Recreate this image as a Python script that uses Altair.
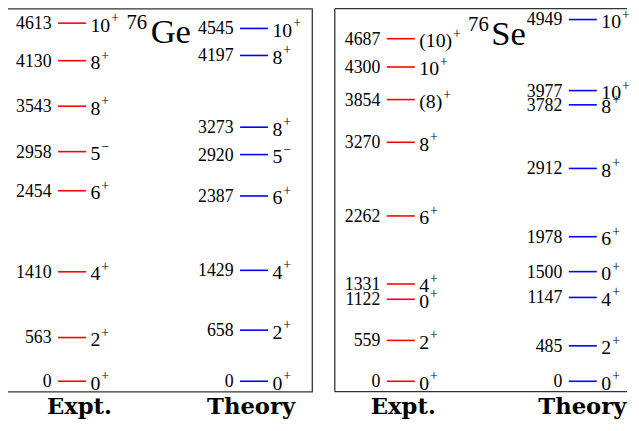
import altair as alt
import pandas as pd

# ---------------- data ----------------
ge_expt_E = [0, 563, 1410, 2454, 2958, 3543, 4130, 4613]
ge_expt_J = ["0", "2", "4", "6", "5", "8", "8", "10"]
ge_expt_P = ["+", "+", "+", "+", "−", "+", "+", "+"]
ge_th_E = [0, 658, 1429, 2387, 2920, 3273, 4197, 4545]
ge_th_J = ["0", "2", "4", "6", "5", "8", "8", "10"]
ge_th_P = ["+", "+", "+", "+", "−", "+", "+", "+"]

se_expt_E = [0, 559, 1122, 1331, 2262, 3270, 3854, 4300, 4687]
se_expt_J = ["0", "2", "0", "4", "6", "8", "(8)", "10", "(10)"]
se_expt_P = ["+", "+", "+", "+", "+", "+", "+", "+", "+"]
se_th_E = [0, 485, 1147, 1500, 1978, 2912, 3782, 3977, 4949]
se_th_J = ["0", "2", "4", "0", "6", "8", "8", "10", "10"]
se_th_P = ["+", "+", "+", "+", "+", "+", "+", "+", "+"]

columns = ["Expt.", "Theory"]
column_pos = [0, 1]
colors = ["#ff0000", "#0000ff"]

nuclei = ["Ge", "Se"]
mass_number = "76"

FONT = "Liberation Serif"
HALF = 0.077          # half length of a level line (x units)
PXU = 184.35          # pixels per x unit
X0 = -0.3626
PANEL_H = 388
BOX = "#333333"


def panel(expt, th, ydom, sym, width, full_box, title_pos, lab_off):
    rows = []
    for col, pos, (Es, Js, Ps) in [(columns[0], column_pos[0], expt),
                                   (columns[1], column_pos[1], th)]:
        for e, j, p in zip(Es, Js, Ps):
            rows.append({"series": col, "pos": pos, "E": e, "Jb": j, "Js": p})
    df = pd.DataFrame(rows)
    base = alt.Chart(df).transform_calculate(
        x1=f"datum.pos - {HALF}",
        x2=f"datum.pos + {HALF}",
        Elab="datum.E == 0 ? '0\u00a0' : toString(datum.E)",
        jw="length(datum.Jb) * 10 - ((indexof(datum.Jb, '(') >= 0) ? 3.4 : 0)"
           " - ((indexof(datum.Jb, ')') >= 0) ? 3.4 : 0)",
    ).transform_calculate(
        xs=f"datum.x2 + (5.5 + datum.jw) / {PXU}"
    )
    xs = alt.Scale(domain=[X0, X0 + width / PXU], nice=False, zero=False)
    ys = alt.Scale(domain=ydom, nice=False, zero=False)
    xaxis = alt.Axis(
        values=column_pos,
        labelExpr="datum.value == 0 ? 'Expt.' : 'Theory'",
        title=None, domain=False, ticks=False, grid=False,
        labelFont="DejaVu Serif", labelFontWeight="bold", labelFontSize=23,
        labelColor="black", labelPadding=4,
        labelOffset={"condition": {"test": "datum.value == 0", "value": lab_off[0]},
                     "value": lab_off[1]},
    )
    yenc = alt.Y("E:Q", scale=ys, axis=None)
    lines = base.mark_rule(strokeWidth=1.6).encode(
        x=alt.X("x1:Q", scale=xs, axis=xaxis),
        x2="x2:Q",
        y=yenc,
        color=alt.Color("series:N", scale=alt.Scale(domain=columns, range=colors), legend=None),
    )
    elab = base.mark_text(align="right", baseline="middle", dx=-6.5, dy=1, font=FONT,
                          fontSize=18, color="black").encode(
        x=alt.X("x1:Q", scale=xs, axis=xaxis), y=yenc, text="Elab:N")
    jlab = base.mark_text(align="left", baseline="middle", dx=4.5, dy=2.5, font=FONT,
                          fontSize=20, color="black").encode(
        x=alt.X("x2:Q", scale=xs, axis=xaxis), y=yenc, text="Jb:N")
    jsup = base.mark_text(align="left", baseline="middle", dx=0, dy=-5, font=FONT,
                          fontSize=14, color="black").encode(
        x=alt.X("xs:Q", scale=xs, axis=xaxis), y=yenc, text="Js:N")
    mx, my, sx, sy = title_pos
    iso = alt.Chart(pd.DataFrame({"mass": [mass_number], "sym": [sym]}))
    t_mass = iso.mark_text(align="right", baseline="alphabetic", font=FONT,
                           fontSize=21, color="black").encode(
        x=alt.value(mx), y=alt.value(my), text="mass:N")
    t_sym = iso.mark_text(align="left", baseline="alphabetic", font=FONT,
                          fontSize=35, color="black").encode(
        x=alt.value(sx), y=alt.value(sy), text="sym:N")
    layers = [lines, elab, jlab, jsup, t_mass, t_sym]
    props = {"width": width, "height": PANEL_H}
    if not full_box:
        edge = alt.Chart(pd.DataFrame({"k": [0]}))
        top = edge.mark_rule(color=BOX, strokeWidth=1.3).encode(
            x=alt.value(0), x2=alt.value(width), y=alt.value(0))
        bottom = edge.mark_rule(color=BOX, strokeWidth=1.3).encode(
            x=alt.value(0), x2=alt.value(width), y=alt.value(PANEL_H))
        leftedge = edge.mark_rule(color=BOX, strokeWidth=1.3).encode(
            x=alt.value(0), y=alt.value(0), y2=alt.value(PANEL_H))
        layers += [top, bottom, leftedge]
        props["view"] = alt.ViewBackground(stroke="transparent")
    return alt.layer(*layers).properties(**props)


left = panel((ge_expt_E, ge_expt_J, ge_expt_P), (ge_th_E, ge_th_J, ge_th_P),
             [-135, 4800], nuclei[0], 310, True,
             (143, 21, 146.5, 34.5), (7, -3.5))
right = panel((se_expt_E, se_expt_J, se_expt_P), (se_th_E, se_th_J, se_th_P),
              [-143, 5098], nuclei[1], 296, False,
              (156, 22.5, 158.5, 36.5), (2, -1))

chart = alt.hconcat(left, right, spacing=20).properties(
    padding={"left": -3, "top": -4, "right": 0, "bottom": 0}
).configure_view(stroke=BOX, strokeWidth=1.3)

chart.save("out.html", embed_options={"renderer": "svg", "actions": False})
